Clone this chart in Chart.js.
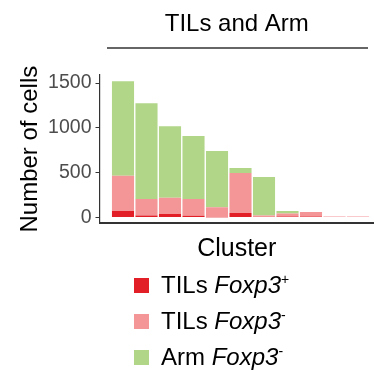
<!DOCTYPE html>
<html>
<head>
<meta charset="utf-8">
<script src="https://cdn.jsdelivr.net/npm/chart.js@4.4.1/dist/chart.umd.min.js"></script>
<style>
  html, body { margin: 0; padding: 0; background: #fff; }
  body { width: 374px; height: 370px; position: relative; overflow: hidden; font-family: "Liberation Sans", Arial, sans-serif; }
  #chart { position: absolute; left: 0; top: 0; }
  #legend { position: absolute; left: 134px; top: 267px; }
  .row { display: flex; align-items: center; height: 36px; font-size: 24px; color: #000; white-space: nowrap; }
  .sw { width: 15px; height: 15px; margin-right: 12px; flex: none; }
  .lab { line-height: 28px; }
  .lab sup { font-size: 14px; vertical-align: 9px; line-height: 0; }
</style>
</head>
<body>
<canvas id="chart" width="374" height="270"></canvas>
<div id="legend"></div>
<script>
// clusters ordered by size, stacked counts
const clusters = ['1', '2', '3', '4', '5', '6', '7', '8', '9', '10', '11'];
const tilsFoxp3Pos = [73, 21, 40, 18, 3, 51, 0, 10, 10, 0, 0];
const tilsFoxp3Neg = [393, 186, 181, 189, 112, 445, 21, 33, 52, 12, 12];
const armFoxp3Neg = [1053, 1067, 798, 701, 626, 56, 430, 30, 0, 0, 0];
const yTicks = [0, 500, 1000, 1500];

const groupNames = ['TILs', 'TILs', 'Arm'];
const geneSign = ['+', '-', '-'];
const colors = ['#e21e26', '#f49698', '#b2d688'];

const toPoints = vals => vals.map((v, i) => ({ x: i + 1, y: v, cluster: clusters[i] }));

// facet strip underline below the title
const stripLine = {
    id: 'stripLine',
    afterDraw(chart) {
        const { ctx, chartArea } = chart;
        ctx.save();
        ctx.strokeStyle = '#333';
        ctx.lineWidth = 1.3;
        ctx.beginPath();
        ctx.moveTo(chartArea.left + 7.5, chartArea.top - 27);
        ctx.lineTo(chartArea.right - 6, chartArea.top - 27);
        ctx.stroke();
        ctx.restore();
    }
};

const ctx = document.getElementById('chart').getContext('2d');
const chart = new Chart(ctx, {
    type: 'bar',
    data: {
        datasets: [
            { label: 'TILs Foxp3+', data: toPoints(tilsFoxp3Pos), backgroundColor: colors[0] },
            { label: 'TILs Foxp3-', data: toPoints(tilsFoxp3Neg), backgroundColor: colors[1] },
            { label: 'Arm Foxp3-', data: toPoints(armFoxp3Neg), backgroundColor: colors[2] }
        ]
    },
    options: {
        responsive: false,
        animation: false,
        barPercentage: 0.94,
        categoryPercentage: 1,
        borderWidth: 0,
        layout: { padding: 0 },
        plugins: {
            legend: { display: false },
            tooltip: { enabled: false },
            title: {
                display: true,
                text: 'TILs and Arm',
                fullSize: false,
                color: '#000',
                font: { family: 'Liberation Sans', size: 24, weight: 'normal' },
                padding: { top: 9.6, bottom: 36.6 }
            }
        },
        scales: {
            x: {
                type: 'linear',
                stacked: true,
                offset: false,
                min: 0,
                max: 11.68,
                ticks: { display: false },
                grid: { drawOnChartArea: false, drawTicks: false },
                border: { display: true, color: '#333', width: 2 },
                title: {
                    display: true,
                    text: 'Cluster',
                    color: '#000',
                    font: { family: 'Liberation Sans', size: 25 },
                    padding: { top: 0, bottom: 6 }
                },
                afterFit: scale => { scale.height = 46.7; }
            },
            y: {
                stacked: true,
                min: -65,
                max: 1590,
                afterBuildTicks: scale => { scale.ticks = yTicks.map(v => ({ value: v })); },
                ticks: {
                    color: '#4d4d4d',
                    padding: 4,
                    font: { family: 'Liberation Sans', size: 19.5 },
                    callback: v => String(v)
                },
                grid: { drawOnChartArea: false, drawTicks: true, tickLength: 4, color: '#333', tickWidth: 1 },
                border: { display: true, color: '#333', width: 1.2 },
                title: {
                    display: true,
                    text: 'Number of cells',
                    color: '#000',
                    font: { family: 'Liberation Sans', size: 24 },
                    padding: { top: 15.6, bottom: 0 }
                },
                afterFit: scale => { scale.width = 99.5; }
            }
        }
    },
    plugins: [stripLine]
});

// legend with italic gene name and superscript sign
const legend = document.getElementById('legend');
groupNames.forEach((name, i) => {
    const row = document.createElement('div');
    row.className = 'row';
    row.innerHTML = '<span class="sw" style="background:' + colors[i] + '"></span>' +
        '<span class="lab">' + name + ' <i>Foxp3</i><sup>' + geneSign[i] + '</sup></span>';
    legend.appendChild(row);
});
</script>
</body>
</html>
